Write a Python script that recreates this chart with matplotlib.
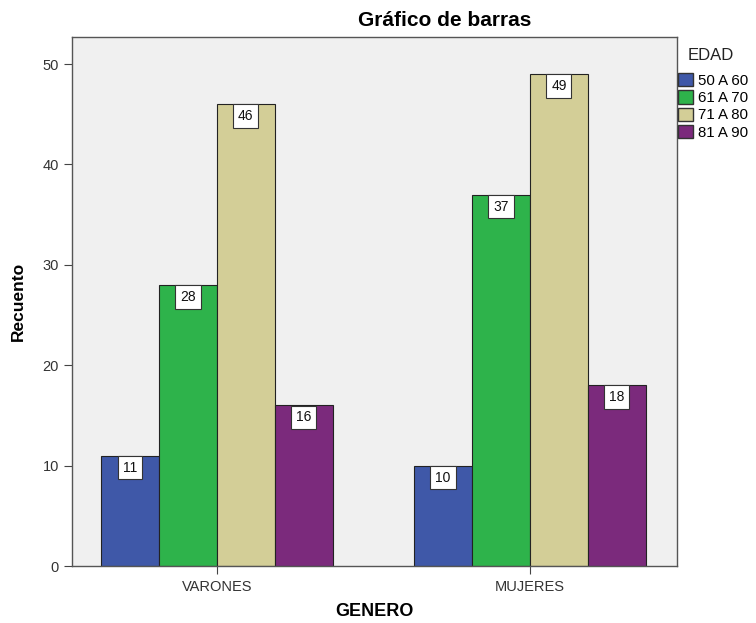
import numpy as np
import matplotlib
matplotlib.use("Agg")
import matplotlib.pyplot as plt
from matplotlib.patches import Patch

plt.rcParams['font.family'] = ['Liberation Sans', 'DejaVu Sans']

generos = ["VARONES", "MUJERES"]
edades = ["50 A 60", "61 A 70", "71 A 80", "81 A 90"]
conteos = {
    "50 A 60": [11, 10],
    "61 A 70": [28, 37],
    "71 A 80": [46, 49],
    "81 A 90": [16, 18],
}
colores = ["#3F58A8", "#2EB34B", "#D3CE97", "#7B2A7C"]

W, H = 756, 623
fig = plt.figure(figsize=(W / 100, H / 100), dpi=100)
ax = fig.add_axes([72 / W, 57 / H, 605 / W, 529 / H])
ax.set_facecolor("#F0F0F0")

x = np.arange(len(generos))
ancho = 0.185
for i, (edad, col) in enumerate(zip(edades, colores)):
    pos = x + (i - 1.5) * ancho
    vals = conteos[edad]
    ax.bar(pos, vals, width=ancho, color=col, edgecolor="#222222", linewidth=0.8, zorder=2)
    for px, v in zip(pos, vals):
        ax.annotate(str(v), (px, v), xytext=(0, -12), textcoords="offset pixels",
                    ha="center", va="center", fontsize=10, color="#111111", zorder=3,
                    bbox=dict(boxstyle="square,pad=0.35", fc="white", ec="#333333", lw=0.8))

ax.set_xlim(-0.463, 1.47)
ax.set_ylim(0, 52.7)
ax.set_xticks(x)
ax.set_xticklabels(generos, fontsize=10.5, color="#333333")
ax.set_yticks(range(0, 51, 10))
ax.tick_params(axis="y", labelsize=10.5, labelcolor="#333333", length=6, color="#444444")
ax.tick_params(axis="x", length=6, color="#444444", pad=4)
for s in ax.spines.values():
    s.set_color("#555555")
    s.set_linewidth(1.0)

ax.set_ylabel("Recuento", fontsize=12.5, fontweight="bold", labelpad=12)
fig.text(374 / W, 1 - 612 / H, "GENERO", fontsize=13, fontweight="bold",
         ha="center", va="center")
fig.text(445 / W, 1 - 21 / H, "Gráfico de barras", fontsize=15, fontweight="bold",
         ha="center", va="center")

# legend title drawn separately so the gap above the entries is wider
fig.text(688 / W, 1 - 55 / H, "EDAD", fontsize=12, ha="left", va="center", color="#222222")
handles = [Patch(facecolor=c, edgecolor="#333333", label=e) for e, c in zip(edades, colores)]
ax.legend(handles=handles, loc="upper left", bbox_to_anchor=(678 / W, 1 - 73 / H),
          bbox_transform=fig.transFigure, frameon=False, fontsize=10.8,
          handlelength=1.0, handleheight=1.0, handletextpad=0.3, labelspacing=0.16,
          borderpad=0, borderaxespad=0)

fig.savefig("out.png", dpi=100)
